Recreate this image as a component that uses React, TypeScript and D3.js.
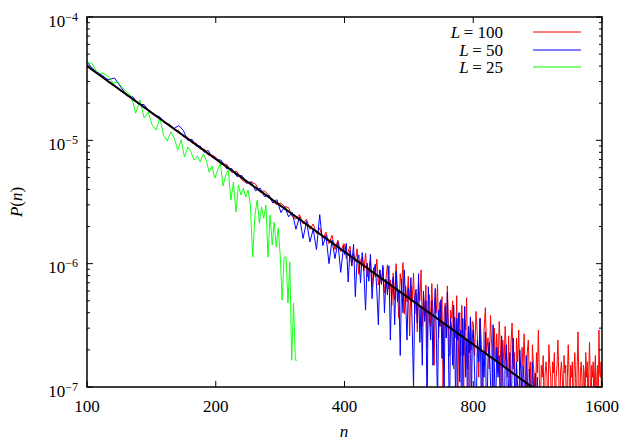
import React from "react";
import * as d3 from "d3";

// sample grids of n
const nHead = d3.range(100, 200, 4);
const nMid = d3.range(200, 400, 6);
const nTail1 = d3.range(400, 800, 4);
const nTailRed = d3.range(800, 1600, 6);
const nTailBlue = d3.range(800, 1150, 6);
const nGreen = d3.range(100, 311, 3);

// tail values are listed in units of 1e-7
const TAIL_UNIT = 1e-7;

// L = 100
const redHead = [4.1e-5, 3.6e-5, 3.35e-5, 2.95e-5, 2.8e-5, 2.5e-5, 2.38e-5, 2.12e-5, 2.03e-5, 1.83e-5, 1.75e-5, 1.58e-5, 1.53e-5, 1.38e-5, 1.35e-5, 1.22e-5, 1.19e-5, 1.07e-5, 1.06e-5, 9.5e-6, 9.5e-6, 8.5e-6, 8.5e-6, 7.6e-6, 7.6e-6];
const redMid = [7.3e-6, 6.4e-6, 6.4e-6, 5.5e-6, 5.6e-6, 4.8e-6, 4.5e-6, 4.6e-6, 4.4e-6, 3.8e-6, 3.9e-6, 3.6e-6, 3.2e-6, 3.0e-6, 3.1e-6, 2.9e-6, 2.85e-6, 2.4e-6, 2.3e-6, 2.5e-6, 2.1e-6, 2.3e-6, 1.9e-6, 2.1e-6, 1.75e-6, 1.95e-6, 1.6e-6, 1.8e-6, 1.45e-6, 1.7e-6, 1.3e-6, 1.55e-6, 1.25e-6, 1.45e-6];
const redTail1 = [
  14.4, 11.0, 12.5, 13.9, 9.6, 12.2, 10.3, 13.2, 8.2, 10.6,
  11.3, 8.7, 12.2, 7.8, 9.0, 10.6, 6.5, 9.3, 7.8, 10.9,
  6.7, 8.9, 6.8, 9.3, 5.8, 7.5, 9.8, 6.2, 7.4, 4.6,
  8.4, 5.1, 10.0, 6.1, 3.6, 8.3, 6.4, 10.2, 3.9, 6.6,
  4.9, 7.9, 2.6, 6.6, 5.0, 8.4, 3.9, 5.7, 2.8, 6.9,
  5.0, 8.9, 3.1, 5.6, 3.8, 6.7, 2.1, 4.9, 5.6, 3.1,
  6.9, 3.8, 1.5, 4.8, 4.0, 6.8, 2.5, 4.9, 3.1, 5.4,
  1.0, 3.9, 4.8, 2.5, 6.6, 3.1, 1.8, 4.2, 3.6, 5.0,
  1.4, 3.7, 2.5, 5.5, 0.7, 3.0, 4.0, 1.8, 4.6, 2.6,
  1.0, 3.5, 2.9, 5.3, 1.4, 3.1, 0.5, 3.7, 2.0, 3.4,
];
const redTail2 = [
  3.3, 1.8, 4.1, 2.6, 1.2, 3.6, 2.2, 0.6, 2.9, 4.4,
  1.9, 2.5, 1.4, 3.8, 2.1, 0.5, 3.0, 1.6, 2.7, 1.3,
  3.4, 2.0, 0.6, 2.4, 1.5, 3.1, 1.9, 1.2, 2.6, 0.5,
  2.2, 3.3, 1.4, 1.9, 0.6, 2.5, 1.6, 2.9, 1.2, 0.5,
  2.1, 1.5, 2.7, 1.3, 0.6, 1.9, 2.4, 1.2, 1.6, 0.5, 2.2,
  1.5, 1.2, 0.5, 1.9, 1.3, 2.9, 1.2, 0.6, 1.5, 1.2,
  1.8, 0.5, 1.3, 1.6, 1.2, 0.6, 2.2, 1.5, 1.2, 0.5,
  1.6, 1.3, 1.9, 0.6, 1.2, 1.5, 2.4, 1.2, 0.5, 1.3,
  1.6, 1.2, 0.6, 1.8, 1.3, 1.5, 0.5, 1.2, 2.2, 1.3,
  0.6, 1.5, 1.2, 1.6, 0.5, 1.3, 1.9, 1.2, 0.6, 1.5,
  2.8, 1.2, 0.5, 1.3, 1.6, 1.2, 0.6, 1.5, 1.3, 0.5,
  1.9, 1.2, 1.6, 0.6, 1.3, 2.3, 1.2, 0.5, 1.5, 1.2,
  1.6, 0.6, 1.3, 1.8, 0.5, 1.2, 1.5, 0.6, 2.9, 1.3,
  1.2, 1.6, 0.5,
];

// L = 50
const blueHead = [4.3e-5, 3.7e-5, 3.4e-5, 3.1e-5, 3.2e-5, 2.7e-5, 2.3e-5, 2.25e-5, 1.95e-5, 1.95e-5, 1.7e-5, 1.6e-5, 1.55e-5, 1.38e-5, 1.33e-5, 1.25e-5, 1.32e-5, 1.2e-5, 1.0e-5, 1.02e-5, 9.0e-6, 9.0e-6, 8.0e-6, 8.3e-6, 7.3e-6];
const blueMid = [7.0e-6, 6.9e-6, 5.9e-6, 5.9e-6, 5.1e-6, 5.2e-6, 4.5e-6, 4.6e-6, 3.9e-6, 4.1e-6, 3.5e-6, 3.6e-6, 3.1e-6, 3.3e-6, 2.6e-6, 2.9e-6, 2.4e-6, 2.6e-6, 1.9e-6, 2.4e-6, 1.6e-6, 2.2e-6, 1.5e-6, 1.9e-6, 1.3e-6, 2.5e-6, 1.4e-6, 1.7e-6, 1.0e-6, 1.55e-6, 1.1e-6, 1.5e-6, 0.85e-6, 1.4e-6];
const blueTail1 = [
  11.9, 14.6, 7.1, 12.8, 9.6, 14.4, 5.4, 10.6, 11.8, 7.0,
  12.3, 8.7, 4.2, 10.1, 7.2, 11.9, 5.2, 8.4, 9.9, 6.1,
  3.2, 8.9, 6.8, 9.7, 4.0, 7.5, 5.6, 9.6, 2.4, 6.6,
  7.8, 3.2, 8.7, 4.9, 6.0, 1.8, 7.5, 4.0, 8.9, 4.9,
  2.4, 6.3, 5.2, 7.7, 3.0, 1.0, 5.3, 6.2, 3.3, 8.3,
  2.3, 4.5, 1.5, 6.0, 3.4, 5.0, 0.6, 6.5, 3.6, 2.4,
  5.0, 1.5, 4.1, 6.3, 2.5, 0.7, 4.2, 3.1, 5.1, 1.7,
  3.3, 1.0, 4.5, 2.5, 5.9, 1.9, 0.5, 3.6, 3.0, 1.5,
  4.6, 2.3, 0.7, 3.6, 2.4, 4.0, 1.1, 2.9, 0.3, 3.6,
  1.8, 4.5, 1.2, 2.4, 0.5, 3.1, 1.9, 3.7, 0.7, 2.5,
];
const blueTail2 = [
  2.9, 1.3, 0.5, 2.4, 1.6, 3.6, 0.6, 1.9, 1.2, 2.8,
  0.4, 1.7, 2.3, 1.1, 0.5, 3.2, 1.5, 0.6, 2.1, 1.2,
  1.8, 0.5, 2.6, 1.3, 0.4, 1.6, 2.2, 0.6, 1.1, 1.9,
  0.5, 1.4, 2.5, 1.2, 0.4, 1.6, 1.0, 0.5, 2.0, 1.3,
  0.6, 1.5, 1.1, 0.4, 1.8, 1.2, 0.5, 1.4, 0.9, 0.5,
  1.6, 1.1, 0.4, 1.3, 0.6, 1.2, 0.5, 1.0, 0.6,
];

// L = 25
const greenVals = [4.32e-5, 4.16e-5, 3.45e-5, 3.51e-5, 3.32e-5, 2.91e-5, 2.97e-5, 2.66e-5, 2.46e-5, 2.29e-5, 1.66e-5, 2.12e-5, 1.52e-5, 1.70e-5, 1.33e-5, 1.21e-5, 1.52e-5, 1.10e-5, 9.87e-6, 1.17e-5, 1.04e-5, 8.34e-6, 1.01e-5, 7.32e-6, 8.82e-6, 8.04e-6, 6.92e-6, 7.46e-6, 6.67e-6, 7.74e-6, 6.92e-6, 5.53e-6, 6.19e-6, 4.94e-6, 5.74e-6, 6.55e-6, 4.26e-6, 5.23e-6, 5.74e-6, 3.28e-6, 4.59e-6, 2.62e-6, 4.34e-6, 3.60e-6, 4.10e-6, 3.47e-6, 3.95e-6, 2.99e-6, 1.13e-6, 2.48e-6, 3.28e-6, 2.13e-6, 2.88e-6, 2.34e-6, 2.99e-6, 1.13e-6, 2.48e-6, 1.42e-6, 2.17e-6, 1.36e-6, 1.94e-6, 1.17e-6, 5.07e-7, 1.13e-6, 1.13e-6, 4.79e-7, 1.03e-6, 1.65e-7, 4.79e-7, 1.65e-7, 1.65e-7];

// fitted power law endpoints
const fitN = [100, 1600];
const fitP = [4.0e-5, 3.9e-8];

const xTicks = [100, 200, 400, 800, 1600];
const yMajor = [1e-4, 1e-5, 1e-6, 1e-7];
const yExponents = ["\u22124", "\u22125", "\u22126", "\u22127"];
const legendLabels = ["100", "50", "25"];
const legendColors = ["#ff0000", "#0000ff", "#00ff00"];

function zipSeries(ns: number[][], vs: number[][]): [number, number][] {
  const out: [number, number][] = [];
  ns.forEach((arr, i) => arr.forEach((n, j) => out.push([n, vs[i][j]])));
  return out;
}
const inUnits = (arr: number[]) => arr.map(v => v * TAIL_UNIT);

export default function App() {
  const W = 634, H = 444;
  const left = 87, right = 602, top = 17, bottom = 387;
  const x = d3.scaleLog().base(2).domain([100, 1600]).range([left, right]);
  const y = d3.scaleLog().domain([1e-7, 1e-4]).range([bottom, top]);
  const line = d3.line<[number, number]>().x(d => x(d[0])).y(d => y(d[1]));

  const red = zipSeries([nHead, nMid, nTail1, nTailRed], [redHead, redMid, inUnits(redTail1), inUnits(redTail2)]);
  const blue = zipSeries([nHead, nMid, nTail1, nTailBlue], [blueHead, blueMid, inUnits(blueTail1), inUnits(blueTail2)]);
  const green = zipSeries([nGreen], [greenVals]);
  const fit = zipSeries([fitN], [fitP]);

  const minor = y.ticks().filter(t => !yMajor.some(m => Math.abs(m - t) / m < 1e-6));
  const font = "'Liberation Serif', 'Times New Roman', Times, serif";
  const ts = { fontFamily: font, fontSize: "17px" };

  return (
    <svg width={W} height={H} style={{ position: "absolute", left: 0, top: 0, background: "#fff" }}>
      <defs>
        <clipPath id="plotclip">
          <rect x={left} y={top} width={right - left} height={bottom - top} />
        </clipPath>
      </defs>
      <g clipPath="url(#plotclip)" fill="none" strokeLinejoin="miter">
        <path d={line(red) || ""} stroke={legendColors[0]} strokeWidth={1} />
        <path d={line(blue) || ""} stroke={legendColors[1]} strokeWidth={1} />
        <path d={line(green) || ""} stroke={legendColors[2]} strokeWidth={0.9} />
        <path d={line(fit) || ""} stroke="#000" strokeWidth={2} />
      </g>
      <g stroke="#000" strokeWidth={1}>
        {yMajor.map((t, i) => (
          <g key={"ym" + i}>
            <line x1={left} x2={left + 6} y1={y(t)} y2={y(t)} />
            <line x1={right} x2={right - 6} y1={y(t)} y2={y(t)} />
          </g>
        ))}
        {minor.map((t, i) => (
          <g key={"yn" + i}>
            <line x1={left} x2={left + 3} y1={y(t)} y2={y(t)} />
            <line x1={right} x2={right - 3} y1={y(t)} y2={y(t)} />
          </g>
        ))}
        {xTicks.map((t, i) => (
          <g key={"xt" + i}>
            <line x1={x(t)} x2={x(t)} y1={bottom} y2={bottom - 6} />
            <line x1={x(t)} x2={x(t)} y1={top} y2={top + 6} />
          </g>
        ))}
      </g>
      <rect x={left} y={top} width={right - left} height={bottom - top} fill="none" stroke="#000" strokeWidth={1.5} />
      {xTicks.map((t, i) => (
        <text key={"xl" + i} x={x(t)} y={411.5} textAnchor="middle" style={ts}>{t}</text>
      ))}
      {yMajor.map((t, i) => (
        <text key={"yl" + i} x={78} y={y(t) + 9.5} textAnchor="end" style={ts}>
          <tspan>10</tspan>
          <tspan dy={-6} style={{ fontSize: "12px" }}>{yExponents[i]}</tspan>
        </text>
      ))}
      <text x={344} y={437} textAnchor="middle" style={{ ...ts, fontStyle: "italic" }}>n</text>
      <text transform={`translate(22,${(top + bottom) / 2}) rotate(-90)`} textAnchor="middle" style={ts}>
        <tspan style={{ fontStyle: "italic" }}>P</tspan>(<tspan style={{ fontStyle: "italic" }}>n</tspan>)
      </text>
      {legendLabels.map((lab, i) => {
        const ly = Math.round(32 + i * 17.5);
        return (
          <g key={"lg" + i}>
            <text x={503} y={38 + i * 17.5} textAnchor="end" style={ts}>
              <tspan style={{ fontStyle: "italic" }}>L</tspan>{"\u2009= "}{lab}
            </text>
            <line x1={533} x2={581} y1={ly} y2={ly} stroke={legendColors[i]} strokeWidth={1} />
          </g>
        );
      })}
    </svg>
  );
}
